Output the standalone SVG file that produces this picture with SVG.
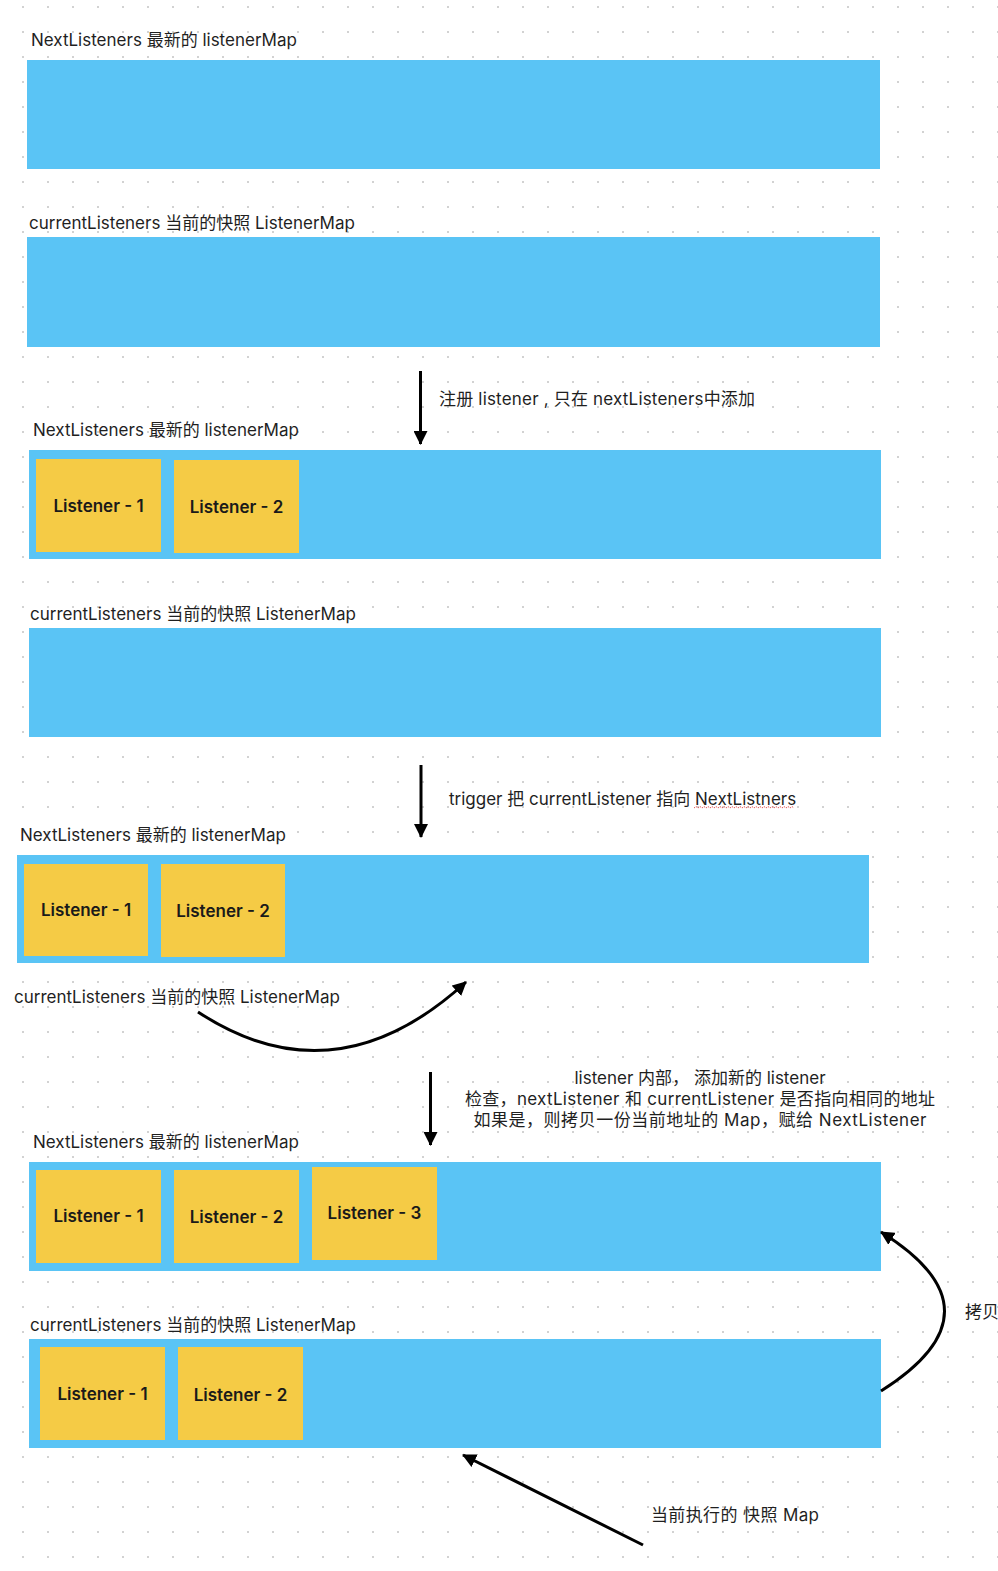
<svg xmlns="http://www.w3.org/2000/svg" width="998" height="1571" viewBox="0 0 998 1571">
<defs>
<pattern id="dots" x="0" y="0" width="25" height="25" patternUnits="userSpaceOnUse">
<rect x="22" y="6" width="2" height="2" fill="#d2d2d2"/>
</pattern>
<marker id="ah" markerUnits="userSpaceOnUse" markerWidth="14" markerHeight="14" viewBox="0 0 14 14" refX="13" refY="7" orient="auto">
<path d="M0,0 L14,7 L0,14 z" fill="#000"/>
</marker>
<style>
.map{fill:#5ac4f5}
.card{fill:#f5cb45}
.lbl{font-family:Inter,"Noto Sans CJK SC",sans-serif;font-size:17px;fill:#1f1f1f}
.ct{font-family:Inter,"Noto Sans CJK SC",sans-serif;font-size:17px;font-weight:600;fill:#1a1a1a;text-anchor:middle}
.con{fill:none;stroke:#000;stroke-width:3}
</style>
</defs>
<rect width="998" height="1571" fill="#fff"/>
<rect width="998" height="1571" fill="url(#dots)"/>

<g id="s1-next">
<text class="lbl" x="31" y="46">NextListeners 最新的 listenerMap</text>
<rect class="map" x="27" y="60" width="853" height="109"/>
</g>
<g id="s1-current">
<text class="lbl" x="29" y="229">currentListeners 当前的快照 ListenerMap</text>
<rect class="map" x="27" y="237" width="853" height="110"/>
</g>

<g id="s2-next">
<text class="lbl" x="33" y="436">NextListeners 最新的 listenerMap</text>
<rect class="map" x="29" y="450" width="852" height="109"/>
<rect class="card" x="36" y="459" width="125" height="93"/>
<text class="ct" x="98.5" y="512">Listener - 1</text>
<rect class="card" x="174" y="460" width="125" height="93"/>
<text class="ct" x="236.5" y="513">Listener - 2</text>
</g>
<g id="s2-current">
<text class="lbl" x="30" y="619.5">currentListeners 当前的快照 ListenerMap</text>
<rect class="map" x="29" y="628" width="852" height="109"/>
</g>

<g id="s3-next">
<text class="lbl" x="20" y="841">NextListeners 最新的 listenerMap</text>
<rect class="map" x="17" y="855" width="852" height="108"/>
<rect class="card" x="24" y="864" width="124" height="92"/>
<text class="ct" x="86" y="916">Listener - 1</text>
<rect class="card" x="161" y="864" width="124" height="93"/>
<text class="ct" x="223" y="917">Listener - 2</text>
</g>
<g id="s3-current">
<text class="lbl" x="14" y="1003">currentListeners 当前的快照 ListenerMap</text>
</g>

<g id="s4-next">
<text class="lbl" x="33" y="1148">NextListeners 最新的 listenerMap</text>
<rect class="map" x="29" y="1162" width="852" height="109"/>
<rect class="card" x="36" y="1170" width="125" height="93"/>
<text class="ct" x="98.5" y="1222">Listener - 1</text>
<rect class="card" x="174" y="1170" width="125" height="93"/>
<text class="ct" x="236.5" y="1223">Listener - 2</text>
<rect class="card" x="312" y="1167" width="125" height="93"/>
<text class="ct" x="374.5" y="1219">Listener - 3</text>
</g>
<g id="s4-current">
<text class="lbl" x="30" y="1331">currentListeners 当前的快照 ListenerMap</text>
<rect class="map" x="29" y="1339" width="852" height="109"/>
<rect class="card" x="40" y="1347" width="125" height="93"/>
<text class="ct" x="102.5" y="1400">Listener - 1</text>
<rect class="card" x="178" y="1347" width="125" height="93"/>
<text class="ct" x="240.5" y="1401">Listener - 2</text>
</g>

<g id="notes">
<text class="lbl" x="439" y="405" textLength="316" lengthAdjust="spacing">注册 listener , 只在 nextListeners中添加</text>
<text class="lbl" x="449" y="804.5">trigger 把 currentListener 指向 NextListners</text>
<path d="M694,808 l2,-1.5 l2,1.5 l2,-1.5 l2,1.5 l2,-1.5 l2,1.5 l2,-1.5 l2,1.5 l2,-1.5 l2,1.5 l2,-1.5 l2,1.5 l2,-1.5 l2,1.5 l2,-1.5 l2,1.5 l2,-1.5 l2,1.5 l2,-1.5 l2,1.5 l2,-1.5 l2,1.5 l2,-1.5 l2,1.5 l2,-1.5 l2,1.5 l2,-1.5 l2,1.5 l2,-1.5 l2,1.5 l2,-1.5 l2,1.5 l2,-1.5 l2,1.5 l2,-1.5 l2,1.5 l2,-1.5 l2,1.5 l2,-1.5 l2,1.5 l2,-1.5 l2,1.5 l2,-1.5 l2,1.5 l2,-1.5 l2,1.5 l2,-1.5 l2,1.5 l2,-1.5 l2,1.5" fill="none" stroke="#e05a5a" stroke-width="1" stroke-dasharray="1.5,1"/>
<text class="lbl" text-anchor="middle" x="700" y="1084">listener 内部， 添加新的 listener</text>
<text class="lbl" text-anchor="middle" x="700" y="1105" textLength="470" lengthAdjust="spacing">检查，nextListener 和 currentListener 是否指向相同的地址</text>
<text class="lbl" text-anchor="middle" x="700" y="1126" textLength="453" lengthAdjust="spacing">如果是，则拷贝一份当前地址的 Map，赋给 NextListener</text>
<text class="lbl" x="965" y="1318">拷贝</text>
<text class="lbl" x="651" y="1521" textLength="168" lengthAdjust="spacing">当前执行的 快照 Map</text>
</g>

<g id="connectors">
<path class="con" d="M420.5,371 L420.5,444" marker-end="url(#ah)"/>
<path class="con" d="M421,765 L421,837" marker-end="url(#ah)"/>
<path class="con" d="M430.5,1072 L430.5,1145" marker-end="url(#ah)"/>
<path class="con" d="M198,1012 Q335,1102 466,982" marker-end="url(#ah)"/>
<path class="con" d="M881,1391 Q1008,1311 881,1232" marker-end="url(#ah)"/>
<path class="con" d="M643,1545 L463,1455" marker-end="url(#ah)"/>
</g>
</svg>
